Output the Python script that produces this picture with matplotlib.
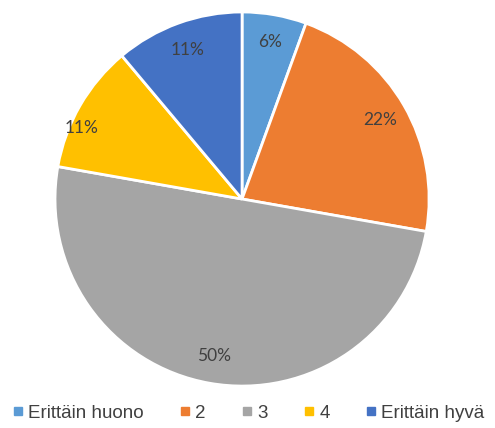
import matplotlib
matplotlib.use("Agg")
import numpy as np
import matplotlib.pyplot as plt
from matplotlib.lines import Line2D

categories = ["Erittäin huono", "2", "3", "4", "Erittäin hyvä"]
counts = [1, 4, 9, 2, 2]
colors = ["#5B9BD5", "#ED7D31", "#A5A5A5", "#FFC000", "#4472C4"]

fig = plt.figure(figsize=(4.95, 4.28), dpi=100)
ax = fig.add_axes([0.111, 0.098, 0.756, 0.874])

wedges, texts, autotexts = ax.pie(
    counts,
    colors=colors,
    startangle=90,
    counterclock=False,
    autopct="%.0f%%",
    pctdistance=0.85,
    wedgeprops={"edgecolor": "white", "linewidth": 2},
    textprops={"color": "#404040", "fontsize": 12.5, "family": "Lato"},
)
# push the small yellow slice's label out toward its lower rim
w = wedges[3]
mid = np.deg2rad((w.theta1 + w.theta2) / 2 + 6)
autotexts[3].set_position((0.94 * np.cos(mid), 0.94 * np.sin(mid)))

ax.set_xlim(-1, 1)
ax.set_ylim(-1, 1)
ax.set_aspect("equal")

handles = [
    Line2D([], [], marker="s", linestyle="", markersize=6, color=c, label=lab)
    for c, lab in zip(colors, categories)
]
fig.legend(
    handles=handles,
    loc="center",
    bbox_to_anchor=(0.5, 0.035),
    ncol=5,
    frameon=False,
    handletextpad=0.15,
    columnspacing=1.8,
    handlelength=0.8,
    prop={"family": "Liberation Sans", "size": 13.5},
    labelcolor="#404040",
)

fig.savefig("out.png", dpi=100)
